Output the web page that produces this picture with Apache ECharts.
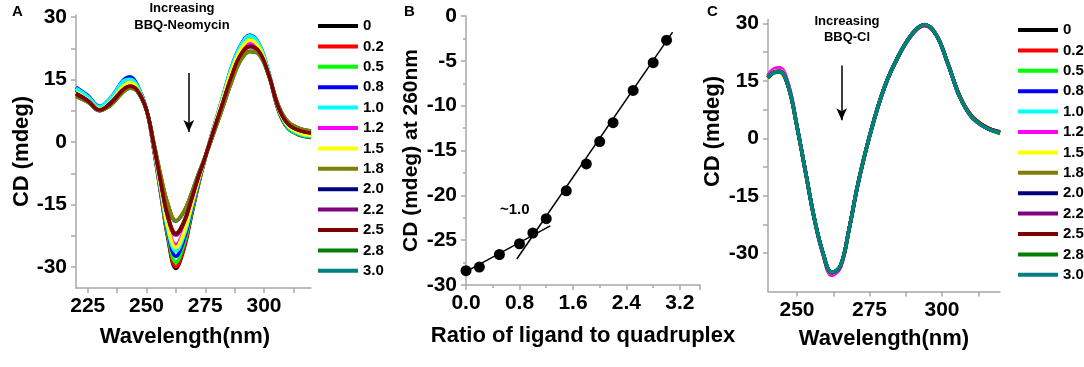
<!DOCTYPE html>
<html>
<head>
<meta charset="utf-8">
<script src="https://cdn.jsdelivr.net/npm/echarts@6/dist/echarts.min.js"></script>
<style>
  html, body { margin: 0; padding: 0; background: #fff; }
  #chart { width: 1084px; height: 367px; }
</style>
</head>
<body>
<div id="chart"></div>
<script>
// ratios of ligand to quadruplex (legend entries)
const ratios = ['0', '0.2', '0.5', '0.8', '1.0', '1.2', '1.5', '1.8', '2.0', '2.2', '2.5', '2.8', '3.0'];
const ratioColors = ['#000000', '#ff0000', '#00ff00', '#0000ff', '#00ffff', '#ff00ff', '#ffff00',
  '#808000', '#000080', '#800080', '#800000', '#008000', '#008080'];

// Panel A: CD spectra with BBQ-Neomycin
const wlA = [220, 225, 230, 235, 240, 243, 246, 250, 253, 256, 259, 262.5, 266, 269, 272, 275, 278, 282, 286, 290, 294, 298, 302, 306, 310, 315, 320];
const cdA_00 = [12.5, 10.6, 8.3, 10.4, 14.4, 15.3, 13.6, 7.8, -1.5, -12.2, -22.8, -30.3, -25.5, -18.0, -10.5, -3.8, 2.2, 9.6, 17.2, 22.6, 25.0, 23.0, 16.4, 7.8, 3.4, 1.7, 1.1];
const cdA_02 = [12.4, 10.5, 8.2, 10.3, 14.3, 15.4, 13.6, 7.8, -1.4, -12.0, -22.5, -29.9, -25.2, -17.8, -10.4, -3.8, 2.2, 9.6, 17.1, 22.5, 24.8, 22.9, 16.5, 8.0, 3.6, 1.9, 1.3];
const cdA_05 = [12.6, 10.7, 8.3, 10.5, 14.6, 15.7, 13.8, 7.8, -1.3, -11.7, -22.0, -28.8, -24.3, -17.3, -10.2, -3.7, 2.3, 9.8, 17.4, 22.9, 25.3, 23.2, 16.6, 8.0, 3.5, 1.8, 1.2];
const cdA_08 = [13.2, 11.2, 8.6, 10.8, 14.8, 15.6, 13.8, 7.8, -1.2, -11.4, -21.4, -27.4, -23.3, -16.7, -9.9, -3.6, 2.4, 10.0, 17.7, 23.2, 25.7, 23.5, 16.8, 8.2, 3.7, 2.0, 1.4];
const cdA_10 = [12.9, 11.0, 8.5, 10.7, 14.6, 15.1, 13.6, 7.8, -1.1, -11.1, -20.9, -26.2, -22.4, -16.2, -9.6, -3.6, 2.4, 10.0, 17.6, 23.1, 25.5, 23.4, 16.8, 8.3, 3.8, 2.0, 1.4];
const cdA_12 = [11.6, 9.9, 7.5, 9.5, 12.6, 13.4, 12.6, 7.7, -0.7, -10.3, -19.6, -24.6, -21.1, -15.3, -9.1, -3.5, 2.1, 9.3, 16.4, 21.5, 23.6, 22.0, 16.2, 8.4, 4.2, 2.4, 1.8];
const cdA_15 = [12.0, 10.2, 7.9, 9.9, 13.4, 14.3, 13.0, 7.7, -0.9, -10.7, -20.1, -25.3, -21.6, -15.6, -9.3, -3.5, 2.2, 9.6, 16.9, 22.2, 24.5, 22.6, 16.4, 8.3, 4.0, 2.2, 1.6];
const cdA_18 = [11.0, 9.6, 7.6, 9.0, 12.0, 13.0, 12.3, 7.6, 0.2, -7.8, -14.6, -18.8, -16.5, -12.5, -7.8, -3.5, 1.2, 7.6, 14.2, 19.6, 21.8, 21.0, 16.0, 9.0, 5.0, 3.3, 2.7];
const cdA_20 = [11.7, 10.0, 7.7, 9.6, 12.6, 13.4, 12.5, 7.7, -0.3, -9.3, -17.6, -22.0, -19.1, -14.0, -8.5, -3.5, 1.7, 8.6, 15.4, 20.8, 23.0, 21.6, 16.1, 8.6, 4.5, 2.8, 2.2];
const cdA_22 = [11.6, 9.9, 7.6, 9.5, 12.5, 13.3, 12.4, 7.7, -0.4, -9.5, -17.9, -22.3, -19.3, -14.1, -8.5, -3.5, 1.7, 8.5, 15.3, 20.7, 22.9, 21.5, 16.1, 8.6, 4.5, 2.8, 2.2];
const cdA_25 = [11.5, 9.9, 7.7, 9.4, 12.5, 13.4, 12.5, 7.7, -0.3, -9.2, -17.5, -21.9, -19.0, -13.9, -8.4, -3.5, 1.7, 8.6, 15.5, 20.9, 23.0, 21.7, 16.2, 8.6, 4.5, 2.8, 2.2];
const cdA_28 = [11.0, 9.6, 7.6, 9.0, 12.0, 13.0, 12.3, 7.6, 0.2, -7.9, -14.7, -18.9, -16.6, -12.5, -7.8, -3.5, 1.2, 7.6, 14.2, 19.6, 21.8, 21.0, 16.0, 9.0, 5.0, 3.3, 2.7];
const cdA_30 = [11.0, 9.6, 7.6, 9.0, 12.0, 12.9, 12.2, 7.6, 0.2, -7.9, -14.8, -19.0, -16.7, -12.6, -7.8, -3.5, 1.2, 7.6, 14.1, 19.5, 21.7, 21.0, 16.0, 9.0, 5.0, 3.3, 2.7];

// Panel B: CD at 260 nm vs ratio, with two linear fits
const ratioB = [0, 0.2, 0.5, 0.8, 1.0, 1.2, 1.5, 1.8, 2.0, 2.2, 2.5, 2.8, 3.0];
const cdB = [-28.4, -28.0, -26.6, -25.4, -24.2, -22.6, -19.5, -16.5, -14.0, -11.9, -8.3, -5.2, -2.7];
const fit1X = [0, 1.26];
const fit1Y = [-28.5, -23.4];
const fit2X = [0.76, 3.09];
const fit2Y = [-27.1, -1.8];

// Panel C: CD spectra with BBQ-Cl
const wlC = [240, 242, 244, 247, 250, 253, 256, 259, 262, 265, 268, 271, 275, 280, 285, 290, 294, 298, 302, 306, 310, 315, 320];
const cdC_00 = [15.9, 17.3, 17.6, 13.6, 3.0, -9.1, -21.1, -30.2, -35.3, -33.4, -23.6, -12.1, 0.4, 12.9, 21.4, 27.4, 29.5, 27.0, 19.6, 11.2, 6.0, 3.0, 1.6];
const cdC_02 = [16.0, 17.5, 17.8, 13.8, 3.1, -9.1, -21.2, -30.3, -35.6, -33.6, -23.7, -12.1, 0.4, 12.9, 21.4, 27.4, 29.4, 26.9, 19.6, 11.3, 6.1, 3.0, 1.5];
const cdC_05 = [16.0, 17.6, 17.9, 13.9, 3.2, -9.0, -21.1, -30.2, -35.5, -33.5, -23.6, -12.0, 0.5, 13.0, 21.5, 27.5, 29.6, 27.0, 19.5, 11.1, 5.9, 2.9, 1.2];
const cdC_08 = [16.3, 18.0, 18.2, 14.0, 3.2, -9.0, -21.1, -30.2, -35.4, -33.4, -23.5, -11.9, 0.6, 13.1, 21.6, 27.6, 29.6, 27.0, 19.5, 11.0, 5.8, 2.8, 1.4];
const cdC_10 = [16.1, 17.8, 18.0, 13.9, 3.1, -9.1, -21.2, -30.3, -35.7, -33.6, -23.6, -12.0, 0.5, 13.0, 21.5, 27.5, 29.6, 27.0, 19.5, 11.0, 5.8, 2.8, 1.5];
const cdC_12 = [16.4, 18.1, 18.4, 14.1, 3.2, -9.1, -21.2, -30.4, -35.8, -33.7, -23.7, -12.1, 0.4, 12.9, 21.4, 27.4, 29.5, 26.9, 19.4, 11.0, 5.8, 2.8, 1.5];
const cdC_15 = [15.9, 17.4, 17.7, 13.7, 3.1, -9.0, -21.1, -30.1, -35.3, -33.4, -23.6, -12.0, 0.5, 13.0, 21.5, 27.5, 29.6, 27.0, 19.5, 11.0, 5.8, 2.8, 1.5];
const cdC_18 = [15.7, 17.1, 17.3, 13.4, 3.0, -9.0, -21.0, -30.0, -35.1, -33.2, -23.5, -12.0, 0.5, 13.0, 21.5, 27.5, 29.7, 27.1, 19.6, 11.1, 5.8, 2.8, 1.5];
const cdC_20 = [15.8, 17.2, 17.5, 13.5, 3.0, -9.0, -21.0, -30.0, -35.1, -33.3, -23.5, -12.0, 0.5, 13.0, 21.5, 27.5, 29.6, 27.0, 19.5, 11.0, 5.8, 2.8, 1.5];
const cdC_22 = [15.9, 17.3, 17.5, 13.5, 3.0, -9.0, -21.0, -30.1, -35.2, -33.3, -23.5, -12.0, 0.5, 13.0, 21.5, 27.5, 29.6, 27.0, 19.5, 11.0, 5.8, 2.8, 1.5];
const cdC_25 = [15.8, 17.2, 17.4, 13.5, 3.0, -9.0, -21.0, -30.0, -35.0, -33.2, -23.5, -12.0, 0.5, 13.0, 21.5, 27.5, 29.6, 27.0, 19.6, 11.2, 6.0, 3.0, 1.7];
const cdC_28 = [15.7, 17.1, 17.3, 13.4, 3.0, -9.0, -21.0, -30.0, -35.0, -33.2, -23.5, -12.0, 0.5, 13.0, 21.5, 27.5, 29.6, 27.0, 19.5, 11.0, 5.8, 2.8, 1.3];
const cdC_30 = [15.8, 17.2, 17.4, 13.5, 3.0, -9.0, -21.0, -30.0, -35.0, -33.2, -23.5, -12.0, 0.5, 13.0, 21.5, 27.5, 29.6, 27.0, 19.5, 11.0, 5.8, 2.8, 1.5];

// tick labels
const ticksA_x = [225, 250, 275, 300];
const minorA_x = [225, 237.5, 250, 262.5, 275, 287.5, 300, 312.5];
const ticksAC_y = [-30, -15, 0, 15, 30];
const minorAC_y = [-30, -22.5, -15, -7.5, 0, 7.5, 15, 22.5, 30];
const ticksC_x = [250, 275, 300];
const minorC_x = [250, 262.5, 275, 287.5, 300, 312.5];

const cdA = [cdA_00, cdA_02, cdA_05, cdA_08, cdA_10, cdA_12, cdA_15, cdA_18, cdA_20, cdA_22, cdA_25, cdA_28, cdA_30];
const cdC = [cdC_00, cdC_02, cdC_05, cdC_08, cdC_10, cdC_12, cdC_15, cdC_18, cdC_20, cdC_22, cdC_25, cdC_28, cdC_30];
// curves drawn on top in panel A
const frontA = ['1.8', '2.5'];

const FONT = '"Liberation Sans", Arial, sans-serif';
const AXIS_GRAY = '#a8a8a8';

const zip = (xs, ys) => xs.map((x, i) => [x, ys[i]]);

function axisStyle(extra) {
  return Object.assign({
    type: 'value',
    splitLine: { show: false },
    axisLine: { show: true, onZero: false, lineStyle: { color: AXIS_GRAY, width: 1.5 } },
    axisTick: { show: true, inside: false, length: 5, lineStyle: { color: AXIS_GRAY, width: 1.5 } },
    axisLabel: { color: '#000', fontFamily: FONT, fontWeight: 'bold', fontSize: 21 },
    nameLocation: 'middle',
    nameTextStyle: { color: '#000', fontFamily: FONT, fontWeight: 'bold', fontSize: 22 },
  }, extra);
}

const chart = echarts.init(document.getElementById('chart'), null, { renderer: 'canvas' });

const series = [];
ratios.forEach((r, i) => {
  series.push({
    name: r, type: 'line', xAxisIndex: 0, yAxisIndex: 0,
    data: zip(wlA, cdA[i]), smooth: 0.4, symbol: 'none',
    z: frontA.includes(r) ? 4 : 2,
    lineStyle: { color: ratioColors[i], width: 3.5 },
    itemStyle: { color: ratioColors[i] },
  });
});
ratios.forEach((r, i) => {
  series.push({
    name: r, type: 'line', xAxisIndex: 2, yAxisIndex: 2,
    data: zip(wlC, cdC[i]), smooth: 0.4, symbol: 'none',
    lineStyle: { color: ratioColors[i], width: 3.5 },
    itemStyle: { color: ratioColors[i] },
  });
});
series.push({
  name: 'fit1', type: 'line', xAxisIndex: 1, yAxisIndex: 1,
  data: zip(fit1X, fit1Y), symbol: 'none',
  lineStyle: { color: '#000', width: 1.5 },
});
series.push({
  name: 'fit2', type: 'line', xAxisIndex: 1, yAxisIndex: 1,
  data: zip(fit2X, fit2Y), symbol: 'none',
  lineStyle: { color: '#000', width: 1.5 },
});
series.push({
  name: 'points', type: 'scatter', xAxisIndex: 1, yAxisIndex: 1,
  data: zip(ratioB, cdB), symbol: 'circle', symbolSize: 11,
  itemStyle: { color: '#000', opacity: 1 }, z: 5,
});

// arrows ("increasing ligand")
series[0].markLine = {
  silent: true, symbol: ['none', 'arrow'], symbolSize: [8, 12],
  label: { show: false },
  lineStyle: { color: '#000', width: 1.5, type: 'solid' },
  data: [[{ coord: [268, 16.6] }, { coord: [268, 2.4] }]],
};
series[13].markLine = {
  silent: true, symbol: ['none', 'arrow'], symbolSize: [8, 12],
  label: { show: false },
  lineStyle: { color: '#000', width: 1.5, type: 'solid' },
  data: [[{ coord: [265.4, 19] }, { coord: [265.4, 4.7] }]],
};

function legendAt(left, top) {
  return {
    data: ratios, orient: 'vertical', left: left, top: top,
    icon: 'rect', itemWidth: 40, itemHeight: 4, itemGap: 4.4,
    selectedMode: false,
    textStyle: { color: '#000', fontFamily: FONT, fontWeight: 'bold', fontSize: 15, lineHeight: 16 },
  };
}

const textEl = (x, y, text, size, align) => ({
  type: 'text', x: x, y: y,
  style: {
    text: text, fill: '#000', font: 'bold ' + size + 'px ' + FONT,
    align: align || 'left', verticalAlign: 'middle',
    textAlign: align || 'left', textVerticalAlign: 'middle',
  },
});

const option = {
  backgroundColor: '#fff',
  animation: false,
  grid: [
    { left: 76, top: 15, width: 235, height: 273 },
    { left: 466, top: 16, width: 234, height: 269 },
    { left: 768, top: 19.5, width: 232, height: 272 },
  ],
  xAxis: [
    axisStyle({
      gridIndex: 0, min: 220, max: 320, name: 'Wavelength(nm)', nameGap: 38,
      axisTick: { show: true, length: 5, customValues: minorA_x, lineStyle: { color: AXIS_GRAY, width: 1.5 } },
      axisLabel: { color: '#000', fontFamily: FONT, fontWeight: 'bold', fontSize: 21, margin: 8, customValues: ticksA_x },
      nameTextStyle: { color: '#000', fontFamily: FONT, fontWeight: 'bold', fontSize: 22, padding: [0, 17, 0, 0] },
    }),
    axisStyle({
      gridIndex: 1, min: 0, max: 3.5, interval: 0.8, name: 'Ratio of ligand to quadruplex', nameGap: 40,
      minorTick: { show: true, splitNumber: 2, length: 3, lineStyle: { color: AXIS_GRAY, width: 1.5 } },
      axisLabel: { color: '#000', fontFamily: FONT, fontWeight: 'bold', fontSize: 21, margin: 8,
        formatter: v => v.toFixed(1), showMaxLabel: false },
    }),
    axisStyle({
      gridIndex: 2, min: 240, max: 320, name: 'Wavelength(nm)', nameGap: 36,
      axisTick: { show: true, length: 5, customValues: minorC_x, lineStyle: { color: AXIS_GRAY, width: 1.5 } },
      axisLabel: { color: '#000', fontFamily: FONT, fontWeight: 'bold', fontSize: 21, margin: 8, customValues: ticksC_x },
    }),
  ],
  yAxis: [
    axisStyle({
      gridIndex: 0, min: -35, max: 30.5, name: 'CD (mdeg)', nameGap: 43,
      axisTick: { show: true, length: 5, customValues: minorAC_y, lineStyle: { color: AXIS_GRAY, width: 1.5 } },
      axisLabel: { color: '#000', fontFamily: FONT, fontWeight: 'bold', fontSize: 21, margin: 9, customValues: ticksAC_y },
    }),
    axisStyle({
      gridIndex: 1, min: -30, max: 0, interval: 5, name: 'CD (mdeg) at 260nm', nameGap: 44,
      minorTick: { show: true, splitNumber: 2, length: 3, lineStyle: { color: AXIS_GRAY, width: 1.5 } },
      axisLabel: { color: '#000', fontFamily: FONT, fontWeight: 'bold', fontSize: 21, margin: 9 },
      nameTextStyle: { color: '#000', fontFamily: FONT, fontWeight: 'bold', fontSize: 21 },
    }),
    axisStyle({
      gridIndex: 2, min: -40, max: 31, name: 'CD (mdeg)', nameGap: 44,
      axisTick: { show: true, length: 5, customValues: minorAC_y, lineStyle: { color: AXIS_GRAY, width: 1.5 } },
      axisLabel: { color: '#000', fontFamily: FONT, fontWeight: 'bold', fontSize: 21, margin: 9, customValues: ticksAC_y },
      nameTextStyle: { color: '#000', fontFamily: FONT, fontWeight: 'bold', fontSize: 22, padding: [0, 0, 0, 48] },
    }),
  ],
  legend: [legendAt(313, 13), legendAt(1013, 17)],
  graphic: [
    textEl(12, 12, 'A', 15),
    textEl(404, 12, 'B', 15),
    textEl(707, 12, 'C', 15),
    textEl(182, 8, 'Increasing', 13, 'center'),
    textEl(182, 25, 'BBQ-Neomycin', 13, 'center'),
    textEl(847, 21, 'Increasing', 13, 'center'),
    textEl(847, 37, 'BBQ-Cl', 13, 'center'),
    textEl(500, 210, '~1.0', 15),
  ],
  series: series,
};

chart.setOption(option);
</script>
</body>
</html>
